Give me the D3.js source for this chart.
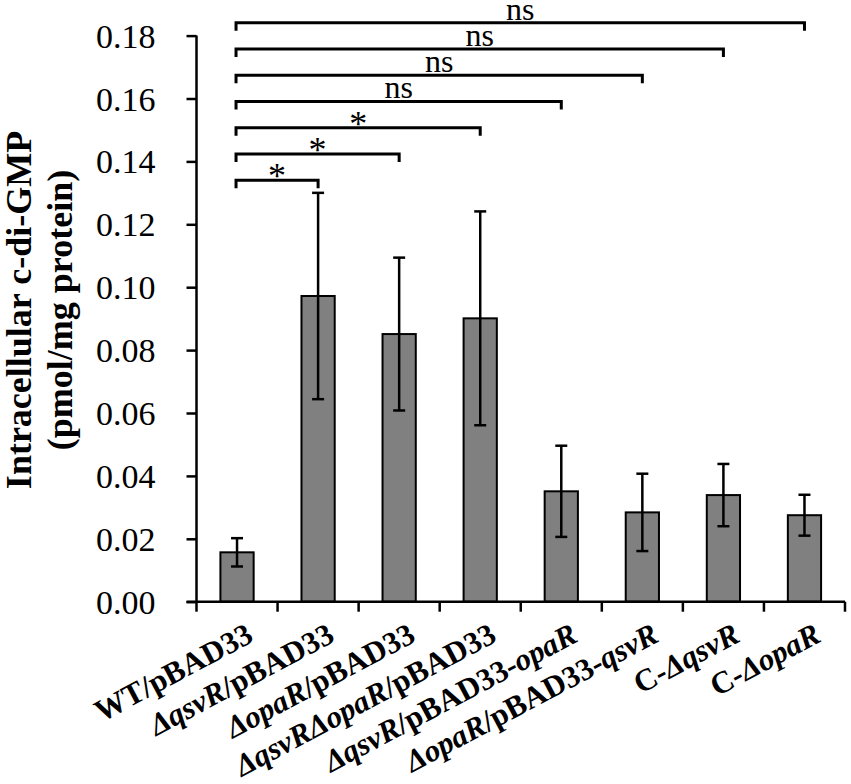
<!DOCTYPE html>
<html><head><meta charset="utf-8">
<script src="https://cdn.jsdelivr.net/npm/d3@7/dist/d3.min.js"></script>
<style>html,body{margin:0;padding:0;background:#fff;}svg{display:block;}</style>
</head><body>
<script>
// ---------- data ----------
const categories = ["WT/pBAD33","ΔqsvR/pBAD33","ΔopaR/pBAD33","ΔqsvRΔopaR/pBAD33","ΔqsvR/pBAD33-opaR","ΔopaR/pBAD33-qsvR","C-ΔqsvR","C-ΔopaR"];
// label pieces: [text, italic]
const labelParts = [
  [["WT/pBAD33",false]],
  [["ΔqsvR",true],["/pBAD33",false]],
  [["ΔopaR",true],["/pBAD33",false]],
  [["ΔqsvRΔopaR",true],["/pBAD33",false]],
  [["ΔqsvR",true],["/pBAD33-",false],["opaR",true]],
  [["ΔopaR",true],["/pBAD33-",false],["qsvR",true]],
  [["C-",false],["ΔqsvR",true]],
  [["C-",false],["ΔopaR",true]]
];
const means  = [0.0157, 0.0972, 0.0851, 0.0901, 0.0351, 0.0284, 0.0339, 0.0275];
const errors = [0.0045, 0.0328, 0.0243, 0.0340, 0.0145, 0.0123, 0.0099, 0.0065];
const yTicks = [0.00,0.02,0.04,0.06,0.08,0.10,0.12,0.14,0.16,0.18];
// significance comparisons vs WT (index 0)
const compTargets = [1,2,3,4,5,6,7];
const compLabels  = ["*","*","*","ns","ns","ns","ns"];

// ---------- layout ----------
const W = 851, H = 784;
const mLeft = 196.5, mRight = 845, mTop = 35.6, mBottom = 601.7;
const svg = d3.select("body").append("svg").attr("width",W).attr("height",H);

const x = d3.scaleBand().domain(categories).range([mLeft,mRight]).padding(0);
const y = d3.scaleLinear().domain([0,0.18]).range([mBottom,mTop]);
const barW = x.bandwidth()*0.41;
const cx = c => x(c) + x.bandwidth()/2;

const serif = "'Liberation Serif','Times New Roman',Times,serif";

// bars
svg.append("g").selectAll("rect").data(categories).join("rect")
  .attr("x", d => cx(d)-barW/2)
  .attr("y", (d,i) => y(means[i]))
  .attr("width", barW)
  .attr("height", (d,i) => y(0)-y(means[i]))
  .attr("fill","#808080").attr("stroke","#000").attr("stroke-width",2);

// error bars
const eg = svg.append("g").attr("stroke","#000").attr("stroke-width",2.5);
categories.forEach((c,i)=>{
  const xc = cx(c), capW = 6;
  eg.append("line").attr("x1",xc).attr("x2",xc).attr("y1",y(means[i]+errors[i])).attr("y2",y(means[i]-errors[i]));
  eg.append("line").attr("x1",xc-capW).attr("x2",xc+capW).attr("y1",y(means[i]+errors[i])).attr("y2",y(means[i]+errors[i]));
  eg.append("line").attr("x1",xc-capW).attr("x2",xc+capW).attr("y1",y(means[i]-errors[i])).attr("y2",y(means[i]-errors[i]));
});

// y axis
const yAxis = d3.axisLeft(y).tickValues(yTicks).tickFormat(d3.format(".2f")).tickSize(10).tickPadding(31);
const ga = svg.append("g").attr("transform",`translate(${mLeft},0)`).call(yAxis);
ga.attr("font-family",serif);
ga.select(".domain").attr("stroke","#000").attr("stroke-width",2.5).attr("d",`M0,${mTop}V${mBottom}`);
ga.selectAll(".tick line").attr("stroke","#000").attr("stroke-width",2.5);
ga.selectAll(".tick text").attr("font-family",serif).attr("font-size",34).attr("fill","#000").attr("dy","0.34em");

// x axis line and boundary ticks
const xg = svg.append("g").attr("stroke","#000").attr("stroke-width",2.5);
xg.append("line").attr("x1",mLeft-10).attr("x2",mRight).attr("y1",mBottom).attr("y2",mBottom);
const bounds = categories.map(c=>x(c)).concat([x(categories[categories.length-1])+x.bandwidth()]);
xg.selectAll(".bt").data(bounds).join("line")
  .attr("x1",d=>d).attr("x2",d=>d).attr("y1",mBottom).attr("y2",mBottom+10);

// x labels
categories.forEach((c,i)=>{
  const t = svg.append("text")
    .attr("transform",`translate(${cx(c)+18},${mBottom+39}) rotate(-28)`)
    .attr("text-anchor","end").attr("font-family",serif).attr("font-size",31)
    .attr("font-weight","bold").attr("fill","#000");
  labelParts[i].forEach(p=>{
    t.append("tspan").text(p[0]).attr("font-style",p[1]?"italic":"normal");
  });
});

// y title
const title = svg.append("text").attr("transform",`translate(0,310) rotate(-90)`)
  .attr("text-anchor","middle").attr("font-family",serif).attr("font-weight","bold").attr("font-size",36).attr("fill","#000");
title.append("tspan").attr("x",0).attr("y",31).text("Intracellular c-di-GMP");
title.append("tspan").attr("x",0).attr("y",72).text("(pmol/mg protein)");

// significance brackets
const bg = svg.append("g");
compTargets.forEach((j,k)=>{
  const lvl = 0.1340 + k*0.00835;
  const yy = y(lvl), x1 = cx(categories[0]) - 1, x2 = cx(categories[j]);
  bg.append("path").attr("d",`M${x1},${yy+8}V${yy}H${x2}V${yy+8}`)
    .attr("fill","none").attr("stroke","#000").attr("stroke-width",3);
  const lab = compLabels[k];
  bg.append("text").attr("x",(x1+x2)/2).attr("y", lab==="*" ? yy+8 : yy-3)
    .attr("text-anchor","middle").attr("font-family",serif)
    .attr("font-size", lab==="*" ? 36 : 32).attr("fill","#000").text(lab);
});
</script>
</body></html>
